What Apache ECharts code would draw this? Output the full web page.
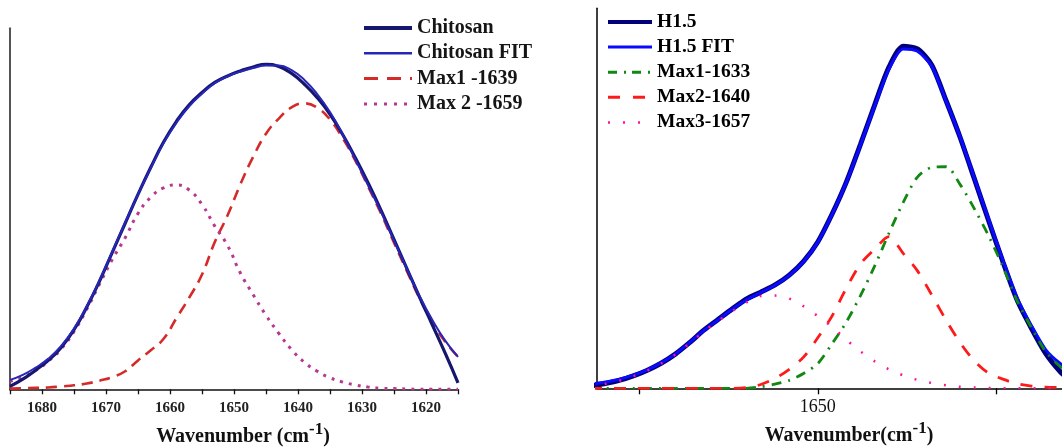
<!DOCTYPE html>
<html>
<head>
<meta charset="utf-8">
<script src="https://cdn.jsdelivr.net/npm/echarts@6/dist/echarts.min.js"></script>
<style>
  html, body { margin: 0; padding: 0; background: #ffffff; }
  #chart { width: 1062px; height: 448px; }
</style>
</head>
<body>
<div id="chart"></div>
<script>
// ---- Chitosan amide I band (left panel) ----
const leftWavenumber = [1685, 1683, 1681, 1679, 1677, 1675, 1673, 1671, 1669, 1667, 1665, 1663,
  1661, 1659, 1657, 1655, 1653, 1651, 1649, 1647, 1645, 1643, 1641, 1639,
  1637, 1635, 1633, 1631, 1629, 1627, 1625, 1623, 1621, 1619, 1617, 1615];
const chitosan = [0.008, 0.028, 0.053, 0.080, 0.116, 0.165, 0.228, 0.300, 0.380, 0.460, 0.540, 0.615,
  0.685, 0.742, 0.788, 0.822, 0.850, 0.868, 0.882, 0.893, 0.900, 0.894, 0.875, 0.845,
  0.808, 0.762, 0.705, 0.640, 0.570, 0.495, 0.415, 0.335, 0.255, 0.178, 0.100, 0.018];
const chitosanFit = [0.026, 0.040, 0.060, 0.085, 0.120, 0.168, 0.230, 0.302, 0.382, 0.462, 0.540, 0.613,
  0.682, 0.738, 0.784, 0.819, 0.848, 0.867, 0.880, 0.890, 0.897, 0.897, 0.884, 0.857,
  0.818, 0.768, 0.705, 0.635, 0.563, 0.490, 0.412, 0.334, 0.258, 0.192, 0.135, 0.090];
const max1_1639 = [0.002, 0.003, 0.004, 0.005, 0.008, 0.011, 0.016, 0.024, 0.034, 0.050, 0.080, 0.108,
  0.140, 0.197, 0.254, 0.318, 0.408, 0.482, 0.568, 0.644, 0.708, 0.750, 0.781, 0.792,
  0.780, 0.747, 0.695, 0.632, 0.560, 0.486, 0.406, 0.328, 0.252, 0.186, 0.132, 0.090];
const max2_1659 = [0.022, 0.034, 0.052, 0.078, 0.112, 0.160, 0.222, 0.292, 0.360, 0.420, 0.487, 0.532,
  0.558, 0.566, 0.552, 0.512, 0.452, 0.398, 0.322, 0.262, 0.205, 0.155, 0.110, 0.075,
  0.050, 0.032, 0.020, 0.012, 0.006, 0.003, 0.002, 0.001, 0, 0, 0, 0];
const leftTicks = [1620, 1630, 1640, 1650, 1660, 1670, 1680];

// ---- H1.5 amide I band (right panel) ----
const rightWavenumber = [1682, 1680, 1678, 1676, 1674, 1672, 1670, 1668, 1666, 1664, 1662, 1660,
  1658, 1656, 1654, 1652, 1650, 1648, 1646, 1644, 1642, 1640, 1638, 1636,
  1634, 1632, 1630, 1628, 1626, 1624, 1622, 1620, 1618, 1616, 1614];
const h15 = [0.006, 0.012, 0.020, 0.032, 0.047, 0.066, 0.090, 0.120, 0.153, 0.181, 0.209, 0.235,
  0.253, 0.272, 0.298, 0.334, 0.385, 0.458, 0.542, 0.642, 0.746, 0.845, 0.900, 0.893,
  0.851, 0.758, 0.660, 0.551, 0.441, 0.333, 0.232, 0.158, 0.092, 0.045, 0.010];
const h15Fit = [0.011, 0.016, 0.023, 0.034, 0.048, 0.067, 0.090, 0.120, 0.152, 0.180, 0.208, 0.233,
  0.252, 0.271, 0.297, 0.333, 0.384, 0.457, 0.541, 0.640, 0.743, 0.840, 0.893, 0.887,
  0.848, 0.757, 0.661, 0.553, 0.444, 0.337, 0.238, 0.165, 0.102, 0.066, 0.042];
const max1_1633 = [0, 0, 0, 0, 0, 0, 0, 0, 0, 0, 0, 0,
  0.004, 0.011, 0.021, 0.039, 0.065, 0.117, 0.174, 0.244, 0.322, 0.408, 0.489, 0.556,
  0.581, 0.583, 0.536, 0.472, 0.401, 0.320, 0.230, 0.160, 0.097, 0.058, 0.032];
const max2_1640 = [0, 0, 0, 0, 0, 0, 0, 0, 0, 0, 0, 0.002,
  0.010, 0.026, 0.050, 0.082, 0.133, 0.190, 0.263, 0.327, 0.366, 0.399, 0.355, 0.309,
  0.246, 0.180, 0.120, 0.072, 0.040, 0.024, 0.012, 0.006, 0.003, 0.002, 0.001];
const max3_1657 = [0.006, 0.011, 0.019, 0.031, 0.046, 0.065, 0.089, 0.118, 0.150, 0.177, 0.203, 0.226,
  0.243, 0.244, 0.236, 0.216, 0.190, 0.162, 0.128, 0.097, 0.071, 0.050, 0.034, 0.022,
  0.014, 0.008, 0.004, 0.002, 0.001, 0, 0, 0, 0, 0, 0];
const rightTicks = [1625, 1650, 1675];
const rightTickLabels = [1650];

const SERIF = "'Liberation Serif', 'Times New Roman', serif";

function pairs(xs, ys) {
  return xs.map((x, i) => [x, ys[i]]);
}

function lineSeries(name, axis, xs, ys, color, width, type, smooth) {
  return {
    name: name,
    type: 'line',
    xAxisIndex: axis,
    yAxisIndex: axis,
    data: pairs(xs, ys),
    symbol: 'none',
    smooth: smooth,
    lineStyle: { color: color, width: width, type: type },
    itemStyle: { color: color },
    emphasis: { disabled: true }
  };
}

function axisTitle(x, y, text) {
  return {
    type: 'text',
    x: x,
    y: y,
    style: {
      text: text,
      align: 'center',
      verticalAlign: 'middle',
      rich: {
        a: { fontFamily: SERIF, fontWeight: 'bold', fontSize: 20, fill: '#111', color: '#111' },
        s: { fontFamily: SERIF, fontWeight: 'bold', fontSize: 17, fill: '#111', color: '#111', padding: [0, 0, 14, 0] }
      }
    }
  };
}

const chart = echarts.init(document.getElementById('chart'), null, { renderer: 'canvas' });

chart.setOption({
  animation: false,
  backgroundColor: '#ffffff',
  grid: [
    { left: 10, top: 28.3, width: 448, height: 361 },
    { left: 597, top: 8.3, width: 465, height: 380 }
  ],
  xAxis: [
    {
      type: 'value', gridIndex: 0, min: 1615, max: 1685, interval: 5, inverse: true,
      axisLine: { lineStyle: { color: '#111', width: 1.5 } },
      axisTick: { length: 5, lineStyle: { color: '#111', width: 1.3 } },
      axisLabel: {
        margin: 11,
        fontFamily: SERIF, fontWeight: 'bold', fontSize: 15, color: '#222',
        formatter: v => (leftTicks.indexOf(v) >= 0 ? String(v) : '')
      },
      splitLine: { show: false }
    },
    {
      type: 'value', gridIndex: 1, min: 1615.7, max: 1681, inverse: true,
      axisLine: { lineStyle: { color: '#000', width: 1.5 } },
      axisTick: { length: 6, customValues: rightTicks, lineStyle: { color: '#000', width: 1.3 } },
      axisLabel: {
        margin: 10, customValues: rightTickLabels,
        fontFamily: SERIF, fontSize: 18, color: '#111',
        formatter: v => String(v)
      },
      splitLine: { show: false }
    }
  ],
  yAxis: [
    {
      type: 'value', gridIndex: 0, min: 0, max: 1,
      axisLine: { show: true, lineStyle: { color: '#555', width: 2 } },
      axisTick: { show: false }, axisLabel: { show: false }, splitLine: { show: false }
    },
    {
      type: 'value', gridIndex: 1, min: 0, max: 1,
      axisLine: { show: true, lineStyle: { color: '#000', width: 1.5 } },
      axisTick: { show: false }, axisLabel: { show: false }, splitLine: { show: false }
    }
  ],
  legend: [
    {
      orient: 'vertical', left: 362, top: 18, padding: 0,
      itemWidth: 48, itemHeight: 14, itemGap: 5.3, selectedMode: false,
      itemStyle: { opacity: 0 },
      textStyle: { fontFamily: SERIF, fontWeight: 'bold', fontSize: 20, color: '#151515' },
      data: [
        { name: 'Chitosan', lineStyle: { width: 4 } },
        { name: 'Chitosan FIT', lineStyle: { width: 2.5 } },
        { name: 'Max1 -1639', lineStyle: { width: 3, type: [14, 9] } },
        { name: 'Max 2 -1659', lineStyle: { width: 3, type: [3, 7] } }
      ]
    },
    {
      orient: 'vertical', left: 606, top: 12, padding: 0,
      itemWidth: 44, itemHeight: 14, itemGap: 5.1, selectedMode: false,
      itemStyle: { opacity: 0 },
      textStyle: { fontFamily: SERIF, fontWeight: 'bold', fontSize: 19.5, color: '#000' },
      data: [
        { name: 'H1.5', lineStyle: { width: 4 } },
        { name: 'H1.5 FIT', lineStyle: { width: 3 } },
        { name: 'Max1-1633', lineStyle: { width: 3, type: [9, 7, 2, 6] } },
        { name: 'Max2-1640', lineStyle: { width: 3, type: [12, 13] } },
        { name: 'Max3-1657', lineStyle: { width: 2.5, type: [2, 13] } }
      ]
    }
  ],
  graphic: [
    axisTitle(243, 437, '{a|Wavenumber (cm}{s|-1}{a|)}'),
    axisTitle(849, 436, '{a|Wavenumber(cm}{s|-1}{a|)}')
  ],
  series: [
    lineSeries('Max1 -1639', 0, leftWavenumber, max1_1639, '#d42a2a', 2.6, [11, 7], 0.5),
    lineSeries('Max 2 -1659', 0, leftWavenumber, max2_1659, '#b8378f', 3, [3, 6], 0.5),
    lineSeries('Chitosan', 0, leftWavenumber, chitosan, '#16166e', 3.2, 'solid', 0.5),
    lineSeries('Chitosan FIT', 0, leftWavenumber, chitosanFit, '#2626b8', 2, 'solid', 0.5),

    lineSeries('H1.5', 1, rightWavenumber, h15, '#00007a', 5, 'solid', 0.25),
    lineSeries('H1.5 FIT', 1, rightWavenumber, h15Fit, '#0a0aff', 3, 'solid', 0.25),
    lineSeries('Max1-1633', 1, rightWavenumber, max1_1633, '#118811', 2.8, [10, 7, 2, 7], 0.3),
    lineSeries('Max2-1640', 1, rightWavenumber, max2_1640, '#ff1a1a', 2.8, [12, 12], 0.3),
    lineSeries('Max3-1657', 1, rightWavenumber, max3_1657, '#ff1493', 2.5, [2, 13], 0.3)
  ]
});
</script>
</body>
</html>
